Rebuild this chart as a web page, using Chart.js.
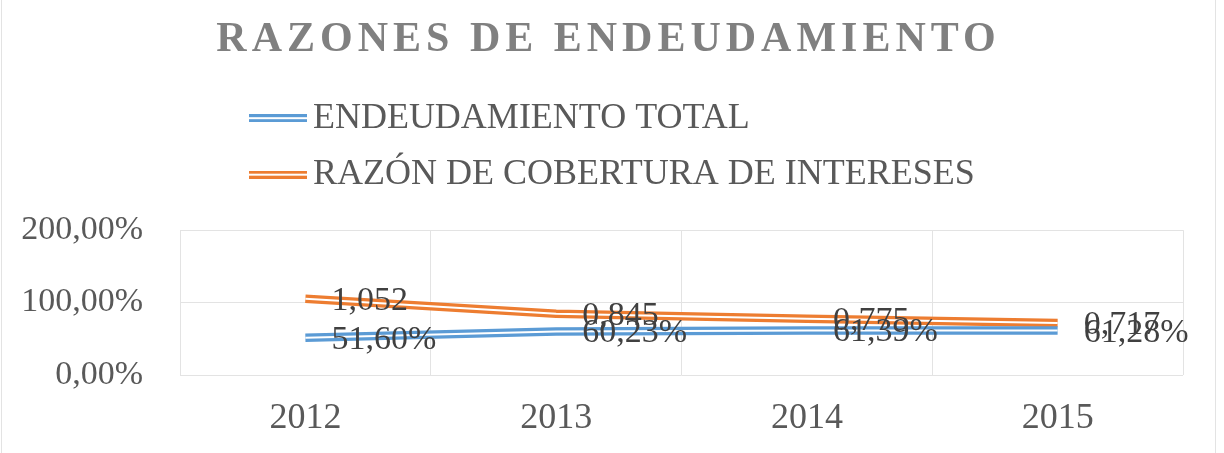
<!DOCTYPE html>
<html>
<head>
<meta charset="utf-8">
<script src="https://cdn.jsdelivr.net/npm/chart.js@4.4.1/dist/chart.umd.min.js"></script>
<style>
  html, body { margin: 0; padding: 0; background: #fff; }
  #wrap { width: 1224px; height: 453px; }
</style>
</head>
<body>
<div id="wrap"><canvas id="chart-endeudamiento"></canvas></div>
<script>
const years = ['2012', '2013', '2014', '2015'];
const endeudamientoTotal = [0.5160, 0.6023, 0.6139, 0.6128];
const coberturaIntereses = [1.052, 0.845, 0.775, 0.717];
const yTicks = [0, 1, 2];

const BLUE = '#5b9bd5';
const ORANGE = '#ed7d31';
const TEXT = '#595959';
const SERIF = '"Liberation Serif", "Times New Roman", serif';

const pct = (v) => (v * 100).toFixed(2).replace('.', ',') + '%';
const ratio = (v) => v.toFixed(3).replace('.', ',');

// legend symbol: excel "double" line
function doubleLine(color) {
  const c = document.createElement('canvas');
  c.width = 58;
  c.height = 8;
  const g = c.getContext('2d');
  g.fillStyle = color;
  g.fillRect(0, 0, 58, 8);
  g.fillStyle = '#fff';
  g.fillRect(0, 3, 58, 2);
  return c;
}

const excelLook = {
  id: 'excelLook',
  beforeLayout(chart) {
    const legend = chart.legend;
    if (legend && !legend._patched) {
      const fit = legend.fit;
      legend.fit = function () { fit.call(this); this.height += 27.5; };
      legend._patched = true;
    }
    const title = chart.titleBlock;
    if (title && !title._patched) {
      const draw = title.draw;
      title.draw = function () {
        const ctx = chart.ctx;
        ctx.save();
        ctx.letterSpacing = '5px';
        ctx.translate(7, 0);
        draw.call(this);
        ctx.restore();
        ctx.letterSpacing = '0px';
      };
      title._patched = true;
    }
  },
  afterLayout(chart) {
    // legend rows start at the left, like excel
    chart.legend.left = 240;
  },
  beforeDraw(chart) {
    const ctx = chart.ctx;
    ctx.save();
    ctx.strokeStyle = '#e3e3e3';
    ctx.lineWidth = 1;
    ctx.beginPath();
    ctx.moveTo(1.5, 0); ctx.lineTo(1.5, chart.height);
    ctx.moveTo(1215.5, 0); ctx.lineTo(1215.5, chart.height);
    ctx.stroke();
    ctx.restore();
  },
  afterDatasetDraw(chart, args) {
    // white stripe inside the thick line -> double line
    const pts = args.meta.data;
    const ctx = chart.ctx;
    ctx.save();
    ctx.strokeStyle = '#fff';
    ctx.lineWidth = 2;
    ctx.beginPath();
    pts.forEach((p, i) => (i ? ctx.lineTo(p.x, p.y) : ctx.moveTo(p.x, p.y)));
    ctx.stroke();
    ctx.restore();
  },
  afterDatasetsDraw(chart) {
    const ctx = chart.ctx;
    ctx.save();
    ctx.font = '34px ' + SERIF;
    ctx.fillStyle = '#404040';
    ctx.textAlign = 'left';
    ctx.textBaseline = 'middle';
    [1, 0].forEach((di) => {
      const ds = chart.data.datasets[di];
      chart.getDatasetMeta(di).data.forEach((p, i) => {
        ctx.fillText(ds.fmt(ds.data[i]), p.x + 26, p.y + 2);
      });
    });
    ctx.restore();
  },
};

new Chart(document.getElementById('chart-endeudamiento'), {
  type: 'line',
  plugins: [excelLook],
  data: {
    labels: years,
    datasets: [
      {
        label: 'ENDEUDAMIENTO TOTAL',
        data: endeudamientoTotal,
        fmt: pct,
        borderColor: BLUE,
        borderWidth: 8.5,
        pointRadius: 0,
        pointStyle: doubleLine(BLUE),
      },
      {
        label: 'RAZÓN DE COBERTURA DE INTERESES',
        data: coberturaIntereses,
        fmt: ratio,
        borderColor: ORANGE,
        borderWidth: 8.5,
        pointRadius: 0,
        pointStyle: doubleLine(ORANGE),
      },
    ],
  },
  options: {
    responsive: true,
    maintainAspectRatio: false,
    animation: false,
    layout: { padding: { left: 20, right: 41, top: 0, bottom: 13 } },
    scales: {
      x: {
        offset: true,
        afterFit: (scale) => { scale.height = 65; },
        grid: { offset: true, color: '#e3e3e3', drawTicks: false },
        border: { display: false },
        ticks: { color: TEXT, padding: 22, font: { family: SERIF, size: 36 } },
      },
      y: {
        min: yTicks[0],
        max: yTicks[yTicks.length - 1],
        afterFit: (scale) => { scale.width = 160; },
        afterBuildTicks: (scale) => { scale.ticks = yTicks.map((v) => ({ value: v })); },
        grid: { color: '#e3e3e3', drawTicks: false },
        border: { display: false },
        ticks: { color: TEXT, padding: 37, font: { family: SERIF, size: 34 }, callback: (v) => pct(v) },
      },
    },
    plugins: {
      title: {
        display: true,
        text: 'RAZONES DE ENDEUDAMIENTO',
        color: '#808080',
        font: { family: SERIF, size: 42, weight: 'bold', lineHeight: 1.2 },
        padding: { top: 15, bottom: 14.25 },
      },
      legend: {
        position: 'top',
        align: 'start',
        labels: {
          usePointStyle: true,
          pointStyleWidth: 34.4,
          boxHeight: 8,
          padding: 20.5,
          color: TEXT,
          font: { family: SERIF, size: 36 },
        },
      },
      tooltip: { enabled: false },
    },
  },
});
</script>
</body>
</html>
